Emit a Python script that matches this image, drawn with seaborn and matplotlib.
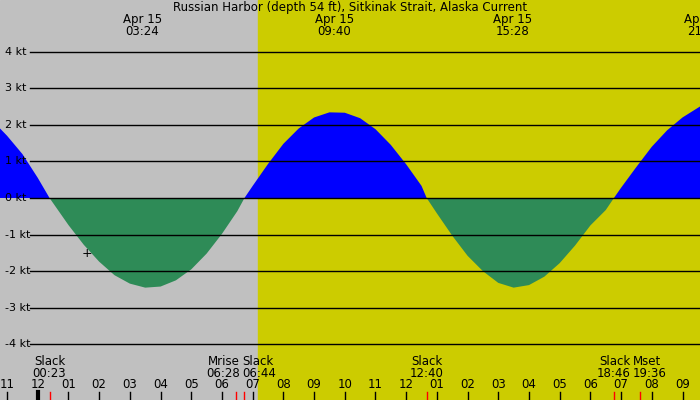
import matplotlib
matplotlib.use("Agg")
import matplotlib.pyplot as plt
import seaborn as sns
import numpy as np
import pandas as pd

title = "Russian Harbor (depth 54 ft), Sitkinak Strait, Alaska Current"
# hours since midnight Apr 15, current in knots
times = [-1.23, -1.0, -0.5, 0.0, 0.383, 0.5, 1.0, 1.5, 2.0, 2.5, 3.0, 3.5, 4.0, 4.5, 5.0, 5.5, 6.0, 6.5, 6.733,
         7.0, 7.5, 8.0, 8.5, 9.0, 9.5, 10.0, 10.5, 11.0, 11.5, 12.0, 12.5, 12.667,
         13.0, 13.5, 14.0, 14.5, 15.0, 15.5, 16.0, 16.5, 17.0, 17.5, 18.0, 18.5, 18.767,
         19.0, 19.5, 20.0, 20.5, 21.0, 21.57]
speeds = [1.9, 1.7, 1.2, 0.55, 0.0, -0.14, -0.74, -1.28, -1.74, -2.11, -2.34, -2.45, -2.42, -2.25, -1.95, -1.52, -0.98, -0.36, 0.0,
          0.33, 0.93, 1.48, 1.9, 2.2, 2.34, 2.33, 2.18, 1.88, 1.45, 0.92, 0.33, 0.0,
          -0.42, -1.03, -1.58, -2.0, -2.32, -2.45, -2.38, -2.15, -1.78, -1.3, -0.75, -0.33, 0.0,
          0.28, 0.85, 1.4, 1.85, 2.2, 2.5]
kt_levels = [4, 3, 2, 1, 0, -1, -2, -3, -4]
hour_ticks = list(range(-1, 22))
hour_labels = ["11", "12", "01", "02", "03", "04", "05", "06", "07", "08", "09", "10",
               "11", "12", "01", "02", "03", "04", "05", "06", "07", "08", "09"]
event_times = [0.383, 6.467, 6.733, 12.667, 18.767, 19.6]
event_names = ["Slack", "Mrise", "Slack", "Slack", "Slack", "Mset"]
event_labels = ["00:23", "06:28", "06:44", "12:40", "18:46", "19:36"]
event_align = ["center", "right", "left", "center", "right", "left"]
extreme_times = [3.4, 9.667, 15.467, 21.7]
extreme_labels = ["03:24", "09:40", "15:28", "21:42"]
sunrise = 7.18

df = pd.DataFrame({"t": times, "v": speeds})
fig = plt.figure(figsize=(7, 4), dpi=100)
ax = fig.add_axes([0, 0, 1, 1])
x0, x1 = -1.23, 21.57
ax.set_xlim(x0, x1)
ax.set_ylim(-5.52, 5.41)
ax.axvspan(x0, sunrise, color="#c0c0c0", zorder=0)
ax.axvspan(sunrise, x1, color="#cccc00", zorder=0)
t = df["t"].to_numpy(); v = df["v"].to_numpy()
ax.fill_between(t, v, 0, where=v >= 0, color="#0000ff", interpolate=True, lw=0, zorder=1)
ax.fill_between(t, v, 0, where=v <= 0, color="#2e8b57", interpolate=True, lw=0, zorder=1)
sns.lineplot(data=df, x="t", y="v", ax=ax, lw=0, zorder=1)
for k in kt_levels:
    ax.axhline(k, xmin=0.043, xmax=1, color="black", lw=1, zorder=2)
    ax.text(x0 + 0.15, k, f"{k} kt", fontsize=8, va="center", ha="left", zorder=3)
fs = 8.5
ax.text(0.5, 1 - 7/400, title, transform=ax.transAxes, ha="center", va="center", fontsize=fs)
for et, el in zip(extreme_times, extreme_labels):
    ax.text(et, (198-19)/36.6, "Apr 15", ha="center", va="center", fontsize=fs)
    ax.text(et, (198-31)/36.6, el, ha="center", va="center", fontsize=fs)
for et, en, el, ha in zip(event_times, event_names, event_labels, event_align):
    xo = et
    if ha == "right":
        xo = et + 0.12 if en == "Mrise" else et + 0.53
    elif ha == "left":
        xo = et - 0.08 if en == "Slack" else et - 0.22
    ax.text(xo, (198-362)/36.6, en, ha=ha, va="center", fontsize=fs)
    ax.text(xo, (198-374)/36.6, el, ha=ha, va="center", fontsize=fs)
    ax.plot([et, et], [(198-392)/36.6, -5.52], color="red", lw=1)
for h, lab in zip(hour_ticks, hour_labels):
    ax.text(h, (198-385)/36.6, lab, ha="center", va="center", fontsize=fs)
    ax.plot([h, h], [(198-392)/36.6, -5.52], color="black", lw=3 if h == 0 else 1)
ax.text(1.6, (198-254)/36.6, "+", ha="center", va="center", fontsize=9)
ax.axis("off")
fig.savefig("out.png", dpi=100)
